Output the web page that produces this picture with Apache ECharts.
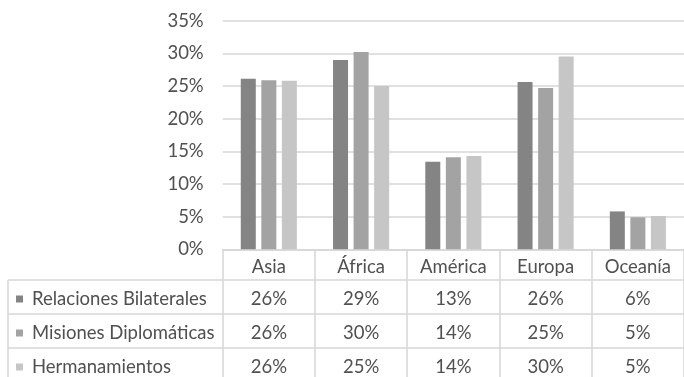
<!DOCTYPE html>
<html>
<head>
<meta charset="utf-8">
<script src="https://cdn.jsdelivr.net/npm/echarts@6/dist/echarts.min.js"></script>
<style>
html,body{margin:0;padding:0;background:#fff;}
#c{width:684px;height:377px;}
</style>
</head>
<body>
<div id="c"></div>
<script>
// ---- data ----
var categories = ['Asia', 'África', 'América', 'Europa', 'Oceanía'];
var seriesNames = ['Relaciones Bilaterales', 'Misiones Diplomáticas', 'Hermanamientos'];
var relaciones = [26.1, 29.0, 13.4, 25.6, 5.8];
var misiones = [25.9, 30.2, 14.1, 24.7, 4.9];
var hermanamientos = [25.8, 25.0, 14.3, 29.5, 5.1];
var yTicks = [0, 5, 10, 15, 20, 25, 30, 35];

// ---- layout / style ----
var seriesValues = [relaciones, misiones, hermanamientos];
var colors = ['#848484', '#a3a3a3', '#c6c6c6'];
var FONT = 'Lato';
var FS = 18.5;
var TEXT = '#505050';
var LINE = '#d6d6d6';
var W = 684, H = 377;
var GRID_LEFT = 222.7, GRID_RIGHT = -6.7, GRID_TOP = 20.7, AXIS_Y = 249.3;
var ROW_OFFSETS = [30.7, 64.7, 98.7];
var TABLE_LEFT = 8;

var chart = echarts.init(document.getElementById('c'), null, {renderer: 'canvas'});

var xAxes = [{
  type: 'category',
  data: categories,
  position: 'bottom',
  axisLine: {show: true, lineStyle: {color: LINE, width: 1.5}},
  axisTick: {show: true, length: 130, interval: 0, lineStyle: {color: LINE, width: 1.5}},
  axisLabel: {margin: 8, fontFamily: FONT, fontSize: FS, color: TEXT, interval: 0}
}];
ROW_OFFSETS.forEach(function (off, k) {
  xAxes.push({
    type: 'category',
    data: categories,
    position: 'bottom',
    offset: off,
    axisLine: {show: true, lineStyle: {color: LINE, width: 1.5}},
    axisTick: {show: false},
    axisLabel: {
      margin: 10, fontFamily: FONT, fontSize: FS, color: TEXT, interval: 0,
      formatter: function (v, i) { return Math.round(seriesValues[k][i]) + '%'; }
    }
  });
});

var graphics = [];
ROW_OFFSETS.forEach(function (off) {
  graphics.push({
    type: 'line', silent: true,
    shape: {x1: TABLE_LEFT, y1: AXIS_Y + off, x2: GRID_LEFT, y2: AXIS_Y + off},
    style: {stroke: LINE, lineWidth: 1.5}
  });
});
graphics.push({
  type: 'line', silent: true,
  shape: {x1: TABLE_LEFT, y1: AXIS_Y + ROW_OFFSETS[0], x2: TABLE_LEFT, y2: H + 5},
  style: {stroke: LINE, lineWidth: 1.5}
});

chart.setOption({
  animation: false,
  backgroundColor: '#fff',
  textStyle: {fontFamily: FONT},
  grid: {left: GRID_LEFT, right: GRID_RIGHT, top: GRID_TOP, bottom: H - AXIS_Y, containLabel: false},
  legend: {
    orient: 'vertical',
    left: 16, top: 289,
    padding: 0,
    itemGap: 14,
    itemWidth: 7, itemHeight: 7,
    icon: 'rect',
    selectedMode: false,
    data: seriesNames,
    textStyle: {fontFamily: FONT, fontSize: FS, color: TEXT, lineHeight: 20, padding: [0, 0, 0, 4]}
  },
  xAxis: xAxes,
  yAxis: {
    type: 'value',
    min: yTicks[0], max: yTicks[yTicks.length - 1], interval: yTicks[1] - yTicks[0],
    axisLine: {show: false},
    axisTick: {show: false},
    splitLine: {lineStyle: {color: LINE, width: 1.5}},
    axisLabel: {margin: 19, fontFamily: FONT, fontSize: FS, color: TEXT, formatter: function (v) { return v + '%'; }}
  },
  graphic: graphics,
  series: seriesNames.map(function (name, k) {
    return {
      name: name,
      type: 'bar',
      xAxisIndex: 0,
      data: seriesValues[k],
      barWidth: 15,
      barGap: '37%',
      itemStyle: {color: colors[k]}
    };
  })
});
</script>
</body>
</html>
